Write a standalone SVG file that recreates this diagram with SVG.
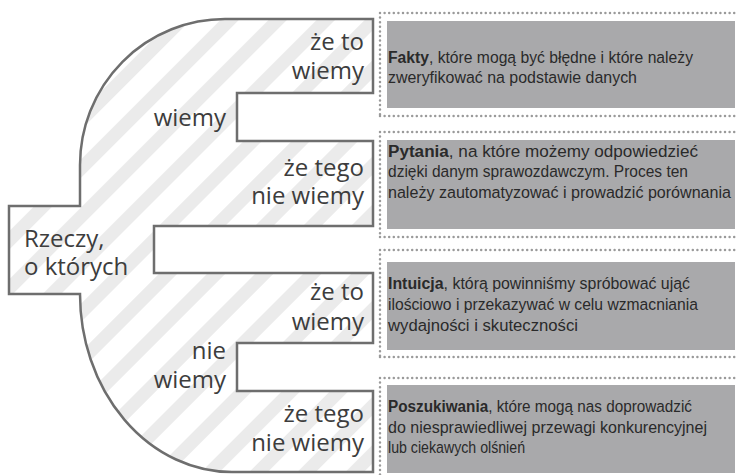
<svg xmlns="http://www.w3.org/2000/svg" width="737" height="475" viewBox="0 0 737 475">
<defs>
<pattern id="stripes" patternUnits="userSpaceOnUse" width="34" height="34" patternTransform="rotate(45)">
<rect x="0" y="0" width="34" height="34" fill="#ffffff"/>
<rect x="0" y="0" width="13" height="34" fill="#ebebeb"/>
</pattern>
<style>
.lbl{font-family:"Open Sans","DejaVu Sans",sans-serif;font-size:24px;fill:#3d3d3d;}
.end{text-anchor:end;}
.dot{fill:none;stroke:#9a9a9a;stroke-width:2.5;stroke-linecap:round;stroke-dasharray:0 4.6;}
.box{fill:#a9a9ab;}
.desc{font-family:"Liberation Sans","Arial",sans-serif;font-size:17px;fill:#2a2a2a;}
.b{font-weight:bold;}
</style>
</defs>
<rect width="737" height="475" fill="#ffffff"/>
<g id="shape">
<path d="M 225 19 L 373 19 L 373 93 L 237 93 L 237 141 L 373 141 L 373 226 L 154 226 L 154 273 L 373 273 L 373 343 L 237 343 L 237 391 L 373 391 L 373 472 L 232 472 A 152 178 0 0 1 80 294 L 9 294 L 9 206 L 80 206 L 80 165 A 145 146 0 0 1 225 19 Z" fill="url(#stripes)" stroke="#6e6e6e" stroke-width="2.5" stroke-linejoin="miter"/>
</g>
<g id="labels">
<text class="lbl end"><tspan x="364" y="50">że to</tspan><tspan x="364" y="79">wiemy</tspan></text>
<text class="lbl end" x="226" y="126">wiemy</text>
<text class="lbl end"><tspan x="364" y="176">że tego</tspan><tspan x="364" y="204">nie wiemy</tspan></text>
<text class="lbl"><tspan x="24" y="247">Rzeczy,</tspan><tspan x="24" y="275">o których</tspan></text>
<text class="lbl end"><tspan x="364" y="300">że to</tspan><tspan x="364" y="330">wiemy</tspan></text>
<text class="lbl end"><tspan x="226" y="359">nie</tspan><tspan x="226" y="388">wiemy</tspan></text>
<text class="lbl end"><tspan x="364" y="422">że tego</tspan><tspan x="364" y="451">nie wiemy</tspan></text>
</g>
<g id="box1">
<path class="dot" d="M 380 13 L 737 13 M 380 116 L 737 116 M 380 13 L 380 116"/>
<rect class="box" x="387" y="21" width="348" height="87"/>
<g transform="translate(388 0) scale(0.85 1)">
<text class="desc" x="0" y="63" textLength="358.8" lengthAdjust="spacingAndGlyphs"><tspan class="b">Fakty</tspan>, które mogą być błędne i które należy</text>
<text class="desc" x="0" y="83" textLength="292.9" lengthAdjust="spacingAndGlyphs">zweryfikować na podstawie danych</text>
</g>
</g>
<g id="box2">
<path class="dot" d="M 380 132 L 737 132 M 380 237 L 737 237 M 380 132 L 380 237"/>
<rect class="box" x="387" y="140" width="348" height="89"/>
<g transform="translate(388 0) scale(0.85 1)">
<text class="desc" x="0" y="157" textLength="364.7" lengthAdjust="spacingAndGlyphs"><tspan class="b">Pytania</tspan>, na które możemy odpowiedzieć</text>
<text class="desc" x="0" y="177.5" textLength="352.9" lengthAdjust="spacingAndGlyphs">dzięki danym sprawozdawczym. Proces ten</text>
<text class="desc" x="0" y="198" textLength="403.5" lengthAdjust="spacingAndGlyphs">należy zautomatyzować i prowadzić porównania</text>
</g>
</g>
<g id="box3">
<path class="dot" d="M 380 250 L 737 250 M 380 357 L 737 357 M 380 250 L 380 357"/>
<rect class="box" x="387" y="262" width="348" height="88"/>
<g transform="translate(388 0) scale(0.85 1)">
<text class="desc" x="0" y="289" textLength="355.3" lengthAdjust="spacingAndGlyphs"><tspan class="b">Intuicja</tspan>, którą powinniśmy spróbować ująć</text>
<text class="desc" x="0" y="310" textLength="364.7" lengthAdjust="spacingAndGlyphs">ilościowo i przekazywać w celu wzmacniania</text>
<text class="desc" x="0" y="331" textLength="223.5" lengthAdjust="spacingAndGlyphs">wydajności i skuteczności</text>
</g>
</g>
<g id="box4">
<path class="dot" d="M 380 378 L 737 378 M 380 378 L 380 475"/>
<rect class="box" x="387" y="385" width="348" height="88"/>
<g transform="translate(388 0) scale(0.85 1)">
<text class="desc" x="0" y="412" textLength="357.6" lengthAdjust="spacingAndGlyphs"><tspan class="b">Poszukiwania</tspan>, które mogą nas doprowadzić</text>
<text class="desc" x="0" y="433" textLength="375.3" lengthAdjust="spacingAndGlyphs">do niesprawiedliwej przewagi konkurencyjnej</text>
<text class="desc" x="0" y="453" textLength="161.2" lengthAdjust="spacingAndGlyphs">lub ciekawych olśnień</text>
</g>
</g>
</svg>
